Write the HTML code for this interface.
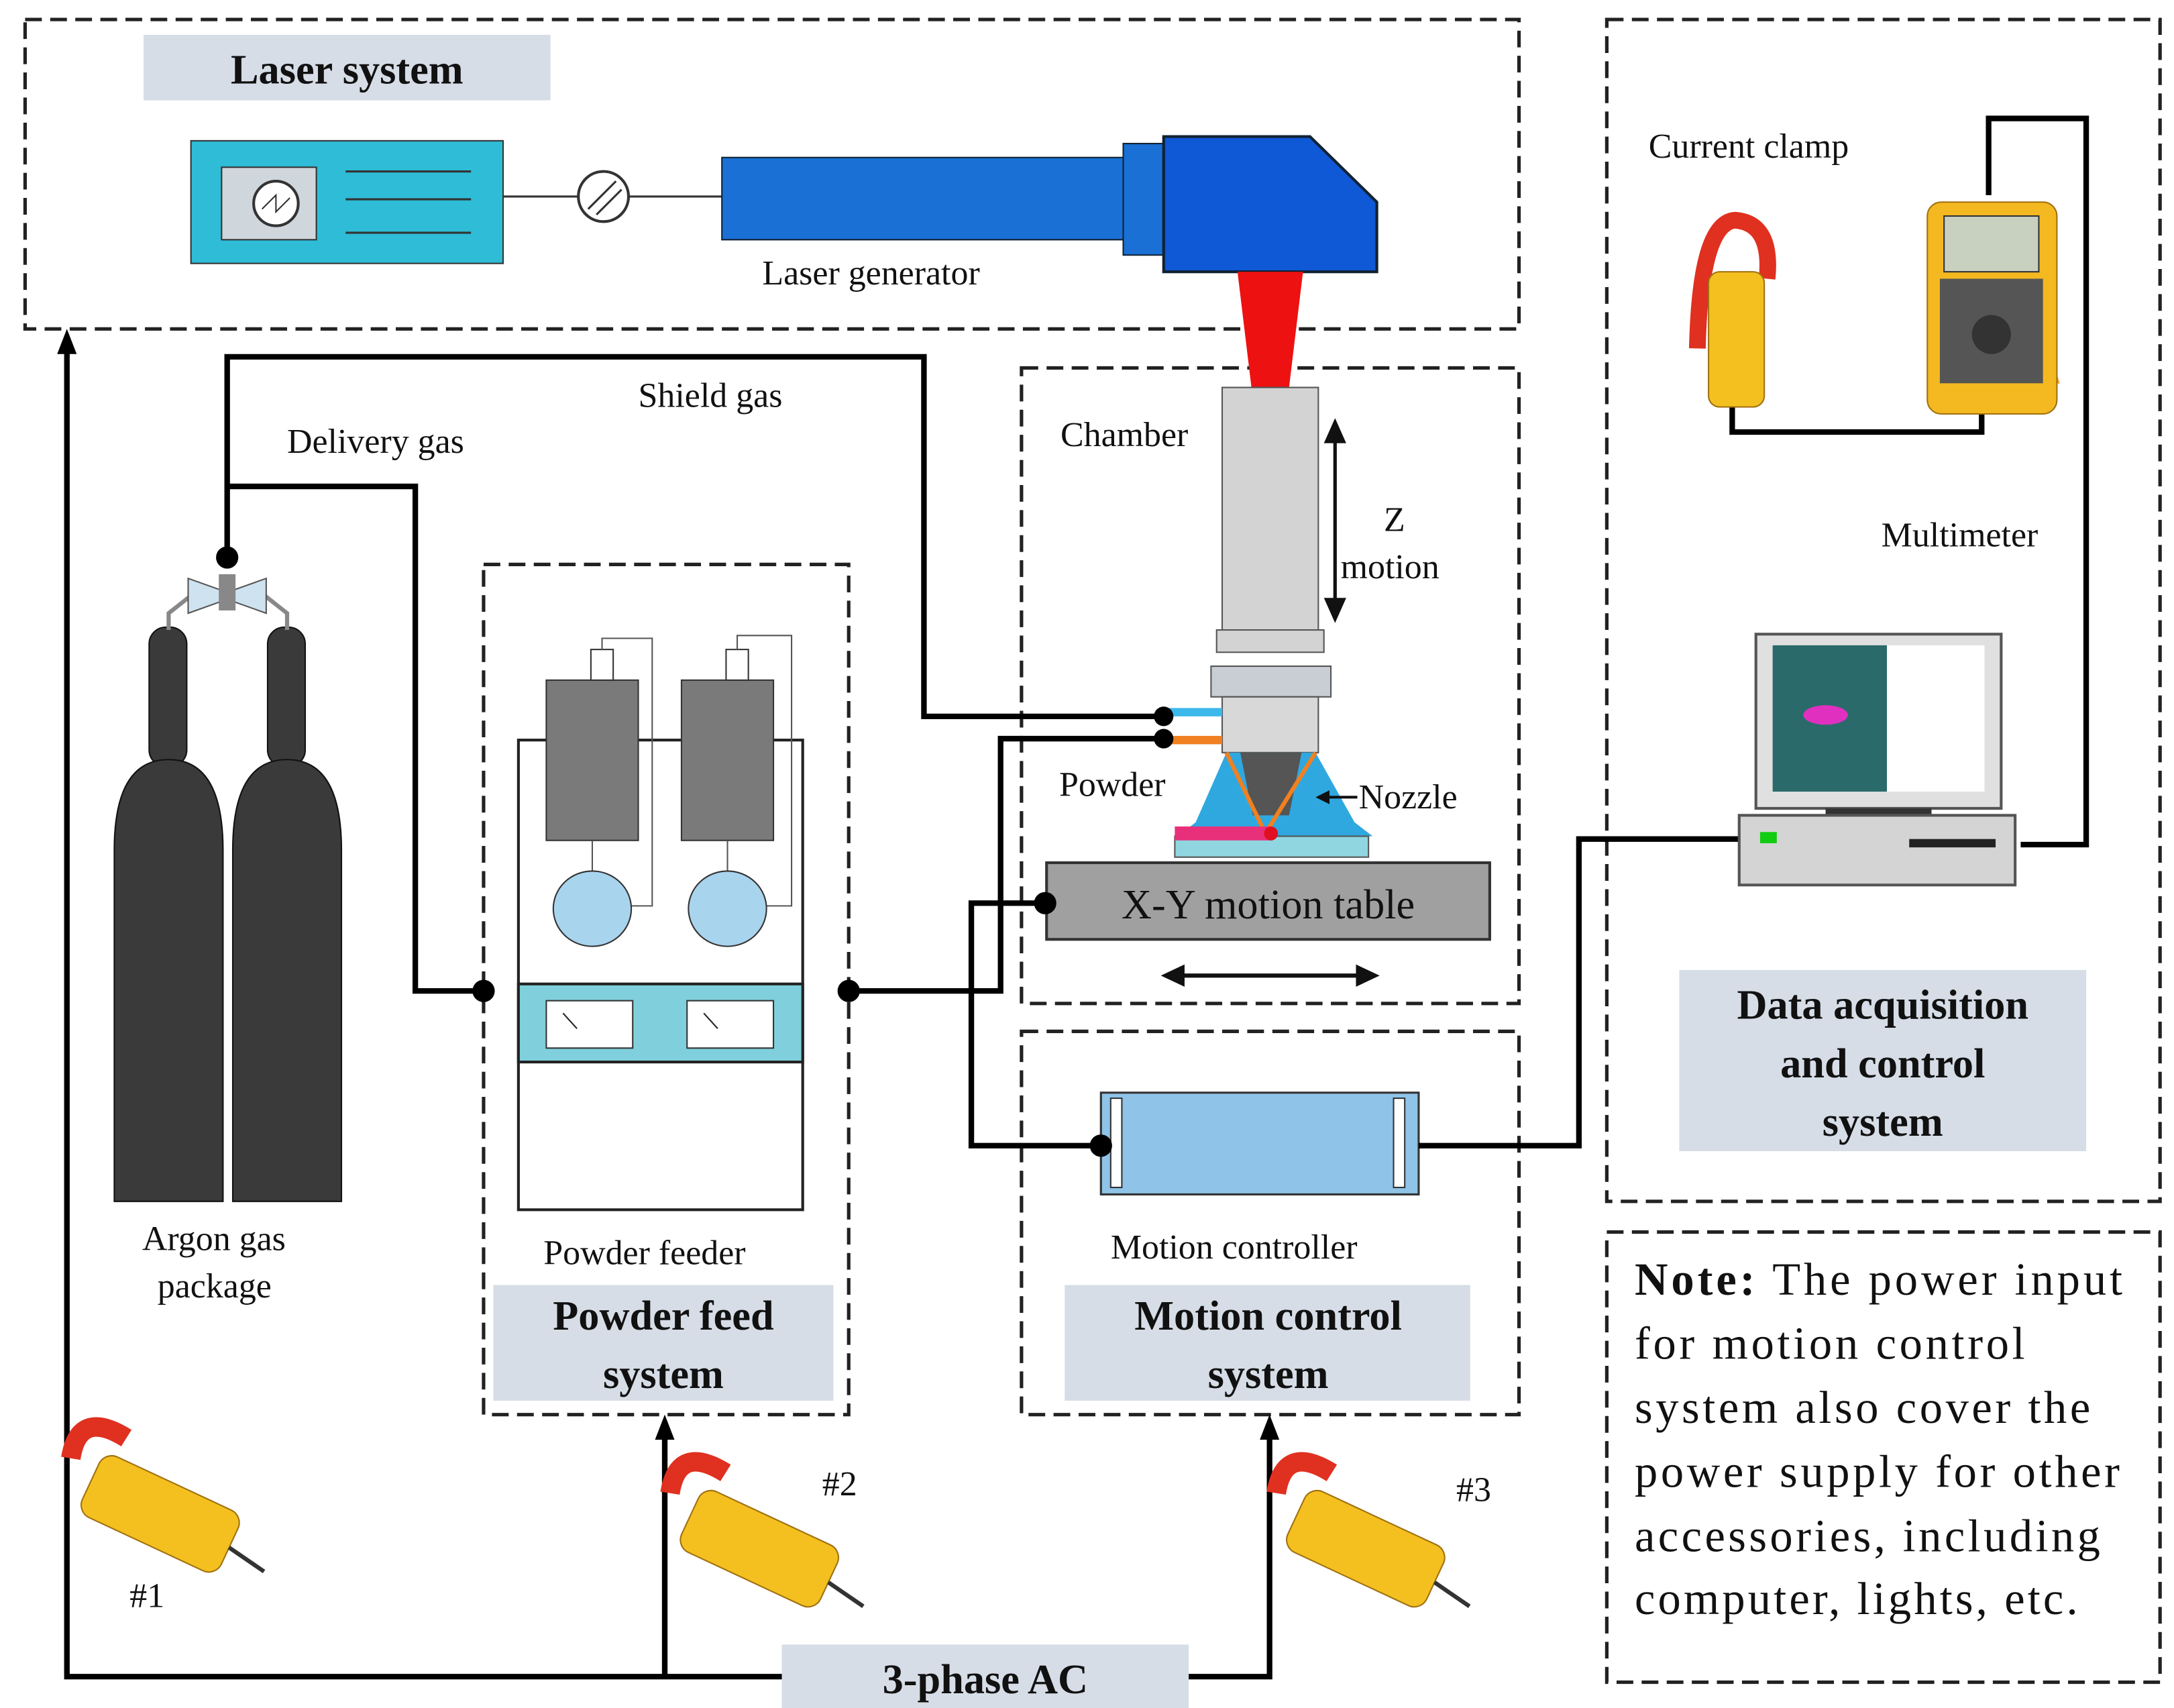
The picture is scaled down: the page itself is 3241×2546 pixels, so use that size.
<!DOCTYPE html>
<html><head><meta charset="utf-8"><style>html,body{margin:0;padding:0;background:#fff}svg{display:block}text{font-family:"Liberation Serif",serif;fill:#111}</style></head><body>
<svg width="3241" height="2546" viewBox="0 0 1560 1225.5" xmlns="http://www.w3.org/2000/svg">
<g fill="none" stroke="#222" stroke-width="2.5" stroke-dasharray="12,6">
<rect x="18" y="14" width="1072" height="222"/>
<rect x="1153" y="14" width="397" height="848"/>
<rect x="733" y="264" width="357" height="456"/>
<rect x="733" y="740" width="357" height="275"/>
<rect x="347" y="405" width="262" height="610"/>
<rect x="1153" y="884" width="397" height="323"/>
</g>
<g fill="#d6dde6">
<rect x="103" y="25" width="292" height="47"/>
<rect x="1205" y="696" width="292" height="130"/>
<rect x="354" y="922" width="244" height="83"/>
<rect x="764" y="922" width="291" height="83"/>
<rect x="561" y="1180" width="292" height="47"/>
</g>
<g font-weight="bold" font-size="30" text-anchor="middle">
<text x="249" y="60">Laser system</text>
<text x="1351" y="731">Data acquisition</text>
<text x="1351" y="773">and control</text>
<text x="1351" y="815">system</text>
<text x="476" y="954">Powder feed</text>
<text x="476" y="996">system</text>
<text x="910" y="954">Motion control</text>
<text x="910" y="996">system</text>
<text x="707" y="1215">3-phase AC</text>
</g>
<g font-size="25">
<text x="547" y="204">Laser generator</text>
<text x="1183" y="113">Current clamp</text>
<text x="1350" y="392">Multimeter</text>
<text x="458" y="292">Shield gas</text>
<text x="206" y="325">Delivery gas</text>
<text x="761" y="320">Chamber</text>
<text x="993" y="381">Z</text>
<text x="962" y="415">motion</text>
<text x="760" y="571">Powder</text>
<text x="975" y="580">Nozzle</text>
<text x="102" y="897">Argon gas</text>
<text x="113" y="931">package</text>
<text x="390" y="907">Powder feeder</text>
<text x="797" y="903">Motion controller</text>
<text x="590" y="1073">#2</text>
<text x="1045" y="1077">#3</text>
<text x="93" y="1153">#1</text>
</g>
<g font-size="33">
<text x="1173" y="929" textLength="350"><tspan font-weight="bold">Note:</tspan> The power input</text>
<text x="1173" y="975" textLength="280">for motion control</text>
<text x="1173" y="1021" textLength="327">system also cover the</text>
<text x="1173" y="1067" textLength="348">power supply for other</text>
<text x="1173" y="1113" textLength="334">accessories, including</text>
<text x="1173" y="1158" textLength="318">computer, lights, etc.</text>
</g>
<!-- laser system -->
<rect x="137" y="101" width="224" height="88" fill="#2ebcd6" stroke="#333" stroke-width="1"/>
<rect x="159" y="120" width="68" height="52" fill="#cfd6dc" stroke="#333"/>
<circle cx="198" cy="146" r="16" fill="#fff" stroke="#333" stroke-width="2"/>
<path d="M188 150 L198 140 L198 152 L208 142" stroke="#333" fill="none"/>
<g stroke="#333" stroke-width="1.5"><line x1="248" y1="123" x2="338" y2="123"/><line x1="248" y1="143" x2="338" y2="143"/><line x1="248" y1="167" x2="338" y2="167"/>
<line x1="361" y1="141" x2="415" y2="141"/><line x1="451" y1="141" x2="518" y2="141"/></g>
<circle cx="433" cy="141" r="18" fill="#fff" stroke="#333" stroke-width="2"/>
<path d="M422 150 L442 130 M428 154 L446 136" stroke="#333" stroke-width="1.5"/>
<rect x="518" y="113" width="290" height="59" fill="#1a70d4" stroke="#123" stroke-width="1"/>
<rect x="806" y="103" width="29" height="80" fill="#1a70d4" stroke="#123"/>
<polygon points="835,98 940,98 988,145 988,195 835,195" fill="#0f58d6" stroke="#123" stroke-width="2"/>
<polygon points="888,195 935,195 925,278 898,278" fill="#ee1111"/>
<!-- chamber -->
<rect x="877" y="278" width="69" height="174" fill="#d3d3d3" stroke="#555"/>
<rect x="873" y="452" width="77" height="16" fill="#d3d3d3" stroke="#555"/>
<rect x="869" y="478" width="86" height="22" fill="#c8ced4" stroke="#555"/>
<rect x="877" y="500" width="69" height="40" fill="#d8d8d8" stroke="#555"/>
<polygon points="880,540 944,540 972,590 985,600 845,600 858,590" fill="#2fa8e0"/>
<polygon points="890,540 934,540 925,585 899,585" fill="#555"/>
<path d="M880 540 L908 598 L944 540" stroke="#f08020" stroke-width="3" fill="none"/>
<rect x="843" y="600" width="139" height="15" fill="#8fd6e0" stroke="#555"/>
<rect x="843" y="593" width="70" height="10" fill="#e8307a"/>
<circle cx="912" cy="598" r="5" fill="#e01020"/>
<rect x="835" y="508" width="42" height="6" fill="#3cb8ea"/>
<rect x="835" y="528" width="42" height="6" fill="#f08020"/>
<line x1="958" y1="305" x2="958" y2="442" stroke="#111" stroke-width="2.5"/>
<polygon points="958,300 950,318 966,318" fill="#111"/><polygon points="958,447 950,429 966,429" fill="#111"/>
<line x1="974" y1="572" x2="948" y2="572" stroke="#111" stroke-width="2"/><polygon points="944,572 954,567 954,577" fill="#111"/>
<rect x="751" y="619" width="318" height="55" fill="#a0a0a0" stroke="#333" stroke-width="2"/>
<text x="910" y="659" font-size="30" text-anchor="middle">X-Y motion table</text>
<line x1="840" y1="700" x2="983" y2="700" stroke="#111" stroke-width="3"/>
<polygon points="833,700 850,692 850,708" fill="#111"/><polygon points="990,700 973,692 973,708" fill="#111"/>
<!-- motion controller -->
<rect x="790" y="784" width="228" height="73" fill="#8fc3e8" stroke="#333" stroke-width="1.5"/>
<rect x="797" y="788" width="8" height="64" fill="#fff" stroke="#333"/>
<rect x="1000" y="788" width="8" height="64" fill="#fff" stroke="#333"/>
<!-- powder feeder -->
<rect x="372" y="531" width="204" height="337" fill="#fff" stroke="#222" stroke-width="2"/>
<rect x="372" y="706" width="204" height="56" fill="#7fd0dc" stroke="#222" stroke-width="2"/>
<rect x="392" y="718" width="62" height="34" fill="#fff" stroke="#333"/>
<rect x="493" y="718" width="62" height="34" fill="#fff" stroke="#333"/>
<path d="M404 727 L414 738" stroke="#222"/><path d="M505 727 L515 738" stroke="#222"/>
<g fill="#7a7a7a" stroke="#333"><rect x="392" y="488" width="66" height="115"/><rect x="489" y="488" width="66" height="115"/></g>
<g fill="#fff" stroke="#333"><rect x="424" y="466" width="16" height="22"/><rect x="521" y="466" width="16" height="22"/></g>
<g stroke="#555" fill="none"><path d="M432 466 V458 H468 V650 H452"/><path d="M529 466 V456 H568 V650 H550"/><line x1="425" y1="603" x2="425" y2="625"/><line x1="522" y1="603" x2="522" y2="625"/></g>
<g fill="#a8d4ee" stroke="#333"><ellipse cx="425" cy="652" rx="28" ry="27"/><ellipse cx="522" cy="652" rx="28" ry="27"/></g>
<!-- cylinders -->
<g fill="#3a3a3a" stroke="#111">
<rect x="107" y="450" width="27" height="100" rx="12"/><rect x="192" y="450" width="27" height="100" rx="12"/>
<path d="M82 862 V610 Q82 545 121 545 Q160 545 160 610 V862 Z"/>
<path d="M167 862 V610 Q167 545 206 545 Q245 545 245 610 V862 Z"/>
</g>
<path d="M121 452 V440 L140 425 M206 452 V440 L187 425" stroke="#888" stroke-width="3" fill="none"/>
<polygon points="135,415 163,425 191,415 191,440 163,430 135,440" fill="#cfe2f0" stroke="#555"/>
<rect x="157" y="412" width="12" height="26" fill="#888"/>
<!-- lines -->
<g stroke="#000" stroke-width="4" fill="none">
<path d="M163 400 V256 H663 V514 H835"/>
<path d="M163 349 H298 V711 H347"/>
<path d="M609 711 H718 V530 H835"/>
<path d="M750 648 H697 V822 H790"/>
<path d="M1018 822 H1133 V602 H1250"/>
<path d="M1450 606 H1497 V85 H1427 V140"/>
<path d="M1243 290 V310 H1422 V290"/>
<path d="M48 248 V1203 H561 M853 1203 H911 V1028 M477 1203 V1028"/>
</g>
<polygon points="48,236 41,254 55,254" fill="#000"/>
<polygon points="477,1015 470,1033 484,1033" fill="#000"/>
<polygon points="911,1015 904,1033 918,1033" fill="#000"/>
<g fill="#000"><circle cx="163" cy="400" r="8"/><circle cx="347" cy="711" r="8"/><circle cx="609" cy="711" r="8"/><circle cx="835" cy="514" r="7"/><circle cx="835" cy="530" r="7"/><circle cx="750" cy="648" r="8"/><circle cx="790" cy="822" r="8"/></g>
<!-- computer -->
<rect x="1260" y="455" width="176" height="125" fill="#e0e0e0" stroke="#555" stroke-width="2"/>
<rect x="1272" y="463" width="152" height="105" fill="#fff"/>
<rect x="1272" y="463" width="82" height="105" fill="#2a6a6a"/>
<ellipse cx="1310" cy="513" rx="16" ry="7" fill="#e030c0"/>
<rect x="1310" y="580" width="76" height="8" fill="#333"/>
<rect x="1248" y="585" width="198" height="50" fill="#d4d4d4" stroke="#555" stroke-width="2"/>
<rect x="1263" y="597" width="12" height="8" fill="#1c1"/>
<rect x="1370" y="602" width="62" height="6" fill="#222"/>
<!-- multimeter -->
<polygon points="1440,150 1478,275 1460,278 1440,200" fill="#f0a020"/>
<rect x="1383" y="145" width="93" height="152" rx="10" fill="#f4b820" stroke="#a07010"/>
<rect x="1395" y="155" width="68" height="40" fill="#c8d0c0" stroke="#333"/>
<rect x="1392" y="200" width="74" height="75" fill="#555"/>
<circle cx="1429" cy="240" r="14" fill="#333"/>
<!-- clamps -->
<g>
<path d="M1218 250 Q1220 160 1245 158 Q1272 160 1268 200" stroke="#e03020" stroke-width="12" fill="none"/>
<rect x="1226" y="195" width="40" height="97" rx="8" fill="#f4c020" stroke="#a07010"/>
<g transform="translate(110,1085) rotate(25)"><path d="M-70 -10 Q-80 -45 -40 -40" stroke="#e03020" stroke-width="14" fill="none"/><rect x="-50" y="-25" width="110" height="48" rx="10" fill="#f4c020" stroke="#a07010"/><line x1="60" y1="0" x2="90" y2="5" stroke="#333" stroke-width="3"/></g>
<g transform="translate(540,1110) rotate(25)"><path d="M-70 -10 Q-80 -45 -40 -40" stroke="#e03020" stroke-width="14" fill="none"/><rect x="-50" y="-25" width="110" height="48" rx="10" fill="#f4c020" stroke="#a07010"/><line x1="60" y1="0" x2="90" y2="5" stroke="#333" stroke-width="3"/></g>
<g transform="translate(975,1110) rotate(25)"><path d="M-70 -10 Q-80 -45 -40 -40" stroke="#e03020" stroke-width="14" fill="none"/><rect x="-50" y="-25" width="110" height="48" rx="10" fill="#f4c020" stroke="#a07010"/><line x1="60" y1="0" x2="90" y2="5" stroke="#333" stroke-width="3"/></g>
</g>
</svg>
</body></html>
